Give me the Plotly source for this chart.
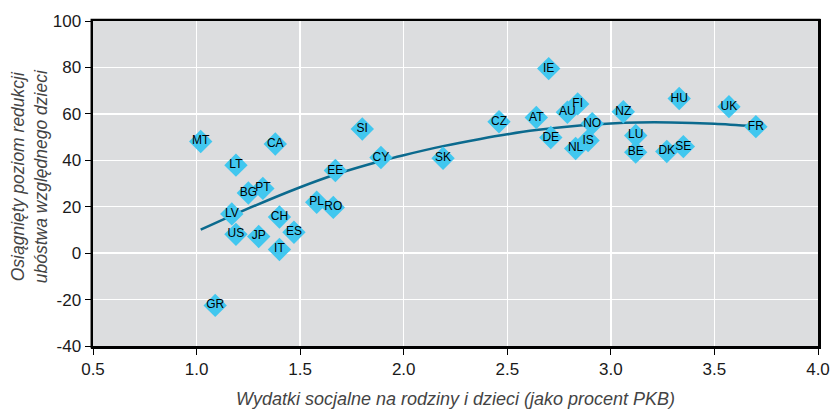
import plotly.graph_objects as go

countries = ["MT", "GR", "LT", "CA", "BG", "PT", "LV", "US", "JP", "CH", "ES", "IT",
             "EE", "PL", "RO", "SI", "CY", "SK", "IE", "CZ", "AT", "AU", "FI", "DE",
             "NO", "IS", "NL", "NZ", "LU", "BE", "DK", "SE", "HU", "UK", "FR"]
spending = [1.02, 1.09, 1.19, 1.38, 1.25, 1.32, 1.17, 1.19, 1.30, 1.40, 1.47, 1.40,
            1.67, 1.58, 1.66, 1.80, 1.89, 2.19, 2.70, 2.46, 2.64, 2.79, 2.84, 2.71,
            2.91, 2.89, 2.83, 3.06, 3.12, 3.12, 3.27, 3.35, 3.33, 3.57, 3.70]
reduction = [48.1, -22.5, 37.9, 47.0, 25.9, 27.9, 16.9, 8.1, 7.2, 15.6, 9.0, 1.6,
             35.6, 21.9, 19.7, 53.5, 41.2, 40.9, 79.5, 56.6, 58.4, 60.7, 64.3, 49.8,
             55.8, 48.5, 45.1, 60.9, 50.7, 43.5, 43.8, 45.9, 66.6, 63.1, 54.5]

trend_x = [1.02, 1.22, 1.50, 1.67, 1.89, 2.00, 2.19, 2.37, 2.50, 2.64, 2.85, 3.00,
           3.13, 3.29, 3.50, 3.70]
trend_y = [10.1, 18.1, 28.4, 33.9, 39.7, 42.2, 46.1, 49.2, 51.2, 53.0, 55.0, 55.9,
           56.3, 56.3, 55.7, 54.6]

x_ticks = [0.5, 1.0, 1.5, 2.0, 2.5, 3.0, 3.5, 4.0]
x_labels = ["0.5", "1.0", "1.5", "2.0", "2.5", "3.0", "3.5", "4.0"]
y_ticks = [-40, -20, 0, 20, 40, 60, 80, 100]
y_labels = ["-40", "-20", "0", "20", "40", "60", "80", "100"]

x_title = "Wydatki socjalne na rodziny i dzieci (jako procent PKB)"
y_title = "Osiągnięty poziom redukcji<br>ubóstwa względnego dzieci"

FONT = "Liberation Sans, Arial, sans-serif"
x_lo, x_hi = x_ticks[0], x_ticks[-1]
y_lo, y_hi = y_ticks[0], y_ticks[-1]

fig = go.Figure()
fig.add_trace(go.Scatter(
    x=trend_x, y=trend_y, mode="lines",
    line=dict(color="#0b6a8e", width=2.5, shape="spline", smoothing=0.8),
    showlegend=False, hoverinfo="skip"))
fig.add_trace(go.Scatter(
    x=spending, y=reduction, mode="markers+text", text=countries,
    textposition="middle center",
    textfont=dict(family=FONT, size=12, color="#000000"),
    marker=dict(symbol="diamond", size=18, color="#41c7ef", line=dict(width=0)),
    showlegend=False, hoverinfo="skip"))

axis_common = dict(
    showline=True, linecolor="#000000", linewidth=2.5, mirror=True,
    ticks="outside", ticklen=6, tickcolor="#000000", tickwidth=1,
    showgrid=True, gridcolor="#ffffff", gridwidth=1.5, zeroline=False,
    automargin=False, layer="above traces",
    tickfont=dict(family=FONT, size=17, color="#1a1a1a"),
)

fig.update_layout(
    width=830, height=410,
    margin=dict(l=93, r=12, t=21, b=64),
    paper_bgcolor="#ffffff", plot_bgcolor="#dcdddf",
    xaxis=dict(range=[x_lo, x_hi], tickvals=x_ticks, ticktext=x_labels,
               title=dict(text="<i>" + x_title + "</i>",
                          font=dict(family=FONT, size=18, color="#444444")),
               **axis_common),
    yaxis=dict(range=[y_lo, y_hi], tickvals=y_ticks, ticktext=y_labels,
               **axis_common),
    shapes=[dict(type="rect", xref="paper", yref="paper",
                 x0=-0.002, y0=-0.004, x1=1.002, y1=1.004,
                 line=dict(color="#000000", width=2), fillcolor="rgba(0,0,0,0)",
                 layer="above")],
    annotations=[dict(text="<i>" + y_title + "</i>", xref="paper", yref="paper",
                      x=-0.088, y=0.523, xanchor="center", yanchor="middle",
                      textangle=-90, showarrow=False,
                      font=dict(family=FONT, size=17.5, color="#444444"))],
)

fig.write_html("out.html", config={"displayModeBar": False, "staticPlot": True},
               post_script="document.body.style.margin='0';document.body.style.overflow='hidden';")
